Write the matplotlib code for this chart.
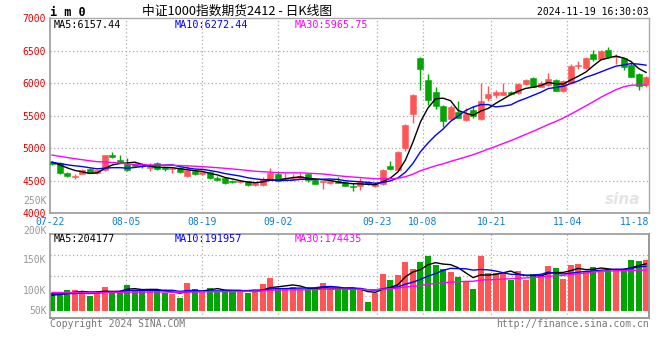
import numpy as np
import matplotlib
matplotlib.use('Agg')
import matplotlib.pyplot as plt

# ---------------- data ----------------
dates_lbl = ['07-22', '08-05', '08-19', '09-02', '09-23', '10-08', '10-21', '11-04', '11-18']
tick_idx = [0, 10, 20, 30, 43, 49, 58, 68, 78]

opens = [4790, 4773, 4626, 4556, 4606, 4682, 4616, 4662, 4899, 4823,
         4763, 4763, 4747, 4692, 4773, 4707, 4682, 4697, 4571, 4655,
         4601, 4631, 4540, 4540, 4500, 4485, 4490, 4439, 4434, 4525,
         4601, 4525, 4525, 4550, 4601, 4510, 4480, 4465, 4500, 4485,
         4424, 4413, 4480, 4413, 4450, 4722, 4663, 5005, 5521, 6390,
         6052, 5868, 5645, 5457, 5564, 5431, 5594, 5457, 5767, 5813,
         5823, 5859, 5849, 5986, 6088, 5950, 5976, 6052, 5874, 6001,
         6266, 6230, 6449, 6368, 6510, 6408, 6383, 6281, 6144, 5976]
highs = [4805, 4788, 4641, 4601, 4687, 4692, 4667, 4904, 4939, 4899,
         4848, 4773, 4768, 4773, 4783, 4717, 4712, 4712, 4732, 4672,
         4641, 4646, 4571, 4561, 4520, 4505, 4500, 4449, 4561, 4702,
         4641, 4616, 4601, 4621, 4621, 4525, 4495, 4500, 4561, 4500,
         4465, 4541, 4495, 4485, 4680, 4808, 4960, 5380, 5828, 6410,
         6144, 5940, 5670, 5660, 5722, 5620, 5645, 6011, 5966, 5900,
         6001, 5879, 6011, 6062, 6103, 6032, 6154, 6067, 6052, 6296,
         6347, 6408, 6510, 6510, 6551, 6449, 6408, 6306, 6164, 6113]
lows = [4740, 4610, 4561, 4535, 4600, 4616, 4611, 4657, 4844, 4773,
        4652, 4712, 4702, 4646, 4672, 4646, 4621, 4626, 4566, 4596,
        4596, 4525, 4495, 4444, 4460, 4460, 4419, 4419, 4424, 4520,
        4495, 4500, 4510, 4540, 4480, 4449, 4369, 4449, 4460, 4413,
        4337, 4362, 4434, 4403, 4430, 4659, 4659, 4965, 5383, 5900,
        5668, 5604, 5330, 5442, 5462, 5416, 5467, 5442, 5732, 5772,
        5823, 5813, 5838, 5976, 5940, 5940, 5966, 5874, 5864, 5991,
        6215, 6215, 6347, 6357, 6383, 6296, 6205, 6093, 5900, 5940]
closes = [4755, 4616, 4571, 4581, 4672, 4626, 4662, 4899, 4859, 4783,
          4672, 4722, 4722, 4727, 4682, 4682, 4702, 4631, 4662, 4601,
          4631, 4540, 4520, 4465, 4485, 4500, 4439, 4460, 4530, 4616,
          4500, 4550, 4550, 4581, 4510, 4455, 4490, 4490, 4470, 4419,
          4408, 4480, 4449, 4444, 4660, 4678, 4950, 5365, 5825, 6220,
          5746, 5650, 5416, 5630, 5472, 5533, 5492, 5732, 5839, 5859,
          5869, 5833, 5996, 6052, 5950, 6001, 6067, 5889, 6042, 6266,
          6281, 6393, 6373, 6495, 6408, 6424, 6246, 6103, 5961, 6103]
# estimated closes of the 29 sessions before 07-22 (needed for the moving averages)
prior_closes = [5180, 5150, 5120, 5140, 5100, 5090, 5060, 5080, 5050, 5080,
                4950, 4880, 4820, 4760, 4740, 4700, 4760, 4780, 4800, 4810,
                4790, 4760, 4740, 4790, 4810, 4830, 4800, 4780, 4778]

volumes = [79400, 76500, 90900, 90900, 86600, 66400, 79400, 105300, 86600, 86600,
           114000, 90900, 85100, 90900, 86600, 76500, 73600, 57700, 122700, 95200,
           82300, 101000, 83700, 90900, 90900, 80800, 79400, 80800, 118300, 144300,
           101000, 98100, 102500, 95200, 95200, 90900, 122700, 93800, 93800, 95200,
           95200, 95200, 40400, 79400, 160200, 134200, 155800, 212100, 181800, 212100,
           239500, 200600, 181800, 168800, 147200, 129900, 95200, 239500, 164500, 164500,
           163100, 134200, 173200, 134200, 160200, 155800, 194800, 186100, 138500, 199100,
           203500, 168800, 190500, 168800, 180400, 181800, 181800, 220800, 216500, 220800]
prior_volumes = [88000, 95000, 82000, 78000, 90000, 85000, 76000, 80000, 92000, 84000,
                 79000, 86000, 81000, 77000, 88000, 83000, 79000, 85000, 80000, 78000,
                 82000, 79000, 84000, 76000, 80000, 64000, 70000, 62000, 69000]

vol_axis_labels = ['250K', '200K', '150K', '100K', '50K']

# ---------------- style / layout ----------------
W, H = 660, 360
RED = '#ff5555'
GREEN = '#00a600'
BLUE_LBL = '#0a7fd0'
MONO = 'DejaVu Sans Mono'
GRID = dict(color='#aaaaaa', linestyle=(0, (1, 2)), linewidth=0.9)
# the date grid of the source chart runs on a slightly wider step than the candles
GRID_SCALE = 7.616 / 7.52
GRID_SHIFT = -2.5 / 7.52

fig = plt.figure(figsize=(W / 100, H / 100), dpi=100)
fig.patch.set_facecolor('white')


def rect(x0, y0, x1, y1):
    return [x0 / W, 1 - y1 / H, (x1 - x0) / W, (y1 - y0) / H]


def ftext(x, y, s, **kw):
    kw.setdefault('family', MONO)
    fig.text(x / W, 1 - y / H, s, **kw)


ax = fig.add_axes(rect(50, 18.3, 649.3, 213.3))
axv = fig.add_axes(rect(50, 234.3, 649.3, 318.3), sharex=ax)

n = len(closes)
x = np.arange(n)
o = np.array(opens); c = np.array(closes); hi = np.array(highs); lo = np.array(lows)
up = c >= o
cols = np.where(up, RED, GREEN)


def ma(arr, k):
    return np.convolve(arr, np.ones(k) / k, mode='valid')[-n:]


allc = np.array(prior_closes + closes, dtype=float)
allv = np.array(prior_volumes + volumes, dtype=float)

# --- price panel ---
ax.vlines(x, lo, hi, colors=cols, linewidth=1, zorder=2)
ax.bar(x, np.abs(c - o), bottom=np.minimum(o, c), width=0.8, color=cols,
       edgecolor=cols, linewidth=0.4, zorder=3)
ax.plot(x, ma(allc, 5), color='black', lw=1, zorder=4)
ax.plot(x, ma(allc, 10), color='#0000ff', lw=1, zorder=4)
ax.plot(x, ma(allc, 30), color='#ff00ff', lw=1, zorder=4)

ax.set_xlim(-0.27, 79.43)
ax.set_ylim(4000, 7000)
ax.set_yticks([4000, 4500, 5000, 5500, 6000, 6500, 7000])
ax.set_yticklabels(['4000', '4500', '5000', '5500', '6000', '6500', '7000'],
                   family=MONO, fontsize=7, color='#e00000')
ax.tick_params(axis='y', length=0, pad=3)
for yv in [4500, 5000, 5500, 6000, 6500]:
    ax.axhline(yv, zorder=1, **GRID)
grid_pos = [t * GRID_SCALE + GRID_SHIFT for t in tick_idx[1:-1]]
for xv in grid_pos:
    ax.axvline(xv, zorder=1, **GRID)
    axv.axvline(xv, zorder=1, **GRID)
ax.set_xticks(grid_pos)
ax.set_xticklabels(dates_lbl[1:-1], family=MONO, fontsize=7, color=BLUE_LBL)
ax.tick_params(axis='x', length=0, pad=3, labelbottom=True)
ax.text(0.0, -0.02, dates_lbl[0], transform=ax.transAxes, ha='center', va='top',
        family=MONO, fontsize=7, color=BLUE_LBL)
ax.text(1.0, -0.02, dates_lbl[-1], transform=ax.transAxes, ha='right', va='top',
        family=MONO, fontsize=7, color=BLUE_LBL)

for side in ['left', 'bottom']:
    ax.spines[side].set_color('#999999')
    ax.spines[side].set_linestyle((0, (1, 1)))
    ax.spines[side].set_linewidth(1.2)
for side in ['top', 'right']:
    ax.spines[side].set_color('#aaaaaa')
    ax.spines[side].set_linewidth(1)

# watermark
ax.text(0.985, 0.03, 'sina', transform=ax.transAxes, ha='right', va='bottom',
        fontsize=11, fontstyle='italic', fontweight='bold', color='#e4e4e4',
        family='DejaVu Sans', zorder=0)

# --- volume panel ---
axv.bar(x, volumes, width=0.8, color=cols, linewidth=0, zorder=2)
axv.plot(x, ma(allv, 5), color='black', lw=1, zorder=4)
axv.plot(x, ma(allv, 10), color='#0000ff', lw=1, zorder=4)
axv.plot(x, ma(allv, 30), color='#ff00ff', lw=1, zorder=4)
VPX = 4329.0   # volume per pixel
BASE_Y = 311.0
axv.set_ylim(-(318.3 - BASE_Y) * VPX, (BASE_Y - 234.3) * VPX)
for ypx in [255.3, 275.7, 296.1]:
    axv.axhline((BASE_Y - ypx) * VPX, zorder=1, **GRID)
axv.set_yticks([])
axv.tick_params(axis='x', length=0, labelbottom=False)
for side in ['left', 'top']:
    axv.spines[side].set_color('#999999')
    axv.spines[side].set_linestyle((0, (1, 1)))
    axv.spines[side].set_linewidth(1.2)
for side in ['bottom', 'right']:
    axv.spines[side].set_color('#999999')
    axv.spines[side].set_linewidth(1.4)

# --- texts ---
ftext(50, 12, 'i m 0', fontsize=8.5, fontweight='bold', va='center', ha='left', color='black')
ftext(237, 11, '中证1000指数期货2412 - 日K线图', fontsize=9.2, va='center', ha='center',
      family=['Noto Sans CJK SC', 'DejaVu Sans'], color='black')
ftext(649, 12, '2024-11-19 16:30:03', fontsize=7, va='center', ha='right', color='black')

ftext(54, 24.5, 'MA5:6157.44', fontsize=7.3, va='center', ha='left', color='black')
ftext(175, 24.5, 'MA10:6272.44', fontsize=7.3, va='center', ha='left', color='#0000ff')
ftext(295, 24.5, 'MA30:5965.75', fontsize=7.3, va='center', ha='left', color='#ff00ff')

ftext(54, 238.5, 'MA5:204177', fontsize=7.3, va='center', ha='left', color='black')
ftext(175, 238.5, 'MA10:191957', fontsize=7.3, va='center', ha='left', color='#0000ff')
ftext(295, 238.5, 'MA30:174435', fontsize=7.3, va='center', ha='left', color='#ff00ff')

for lbl, ypx in zip(vol_axis_labels, [201, 231, 260, 291, 311]):
    ftext(46.5, ypx, lbl, fontsize=7, va='center', ha='right', color='#999999')

ftext(50, 324, 'Copyright 2024 SINA.COM', fontsize=7, va='center', ha='left', color='#777777')
ftext(649, 324, 'http://finance.sina.com.cn', fontsize=7, va='center', ha='right', color='#777777')

fig.savefig('out.png', dpi=100, facecolor='white')
